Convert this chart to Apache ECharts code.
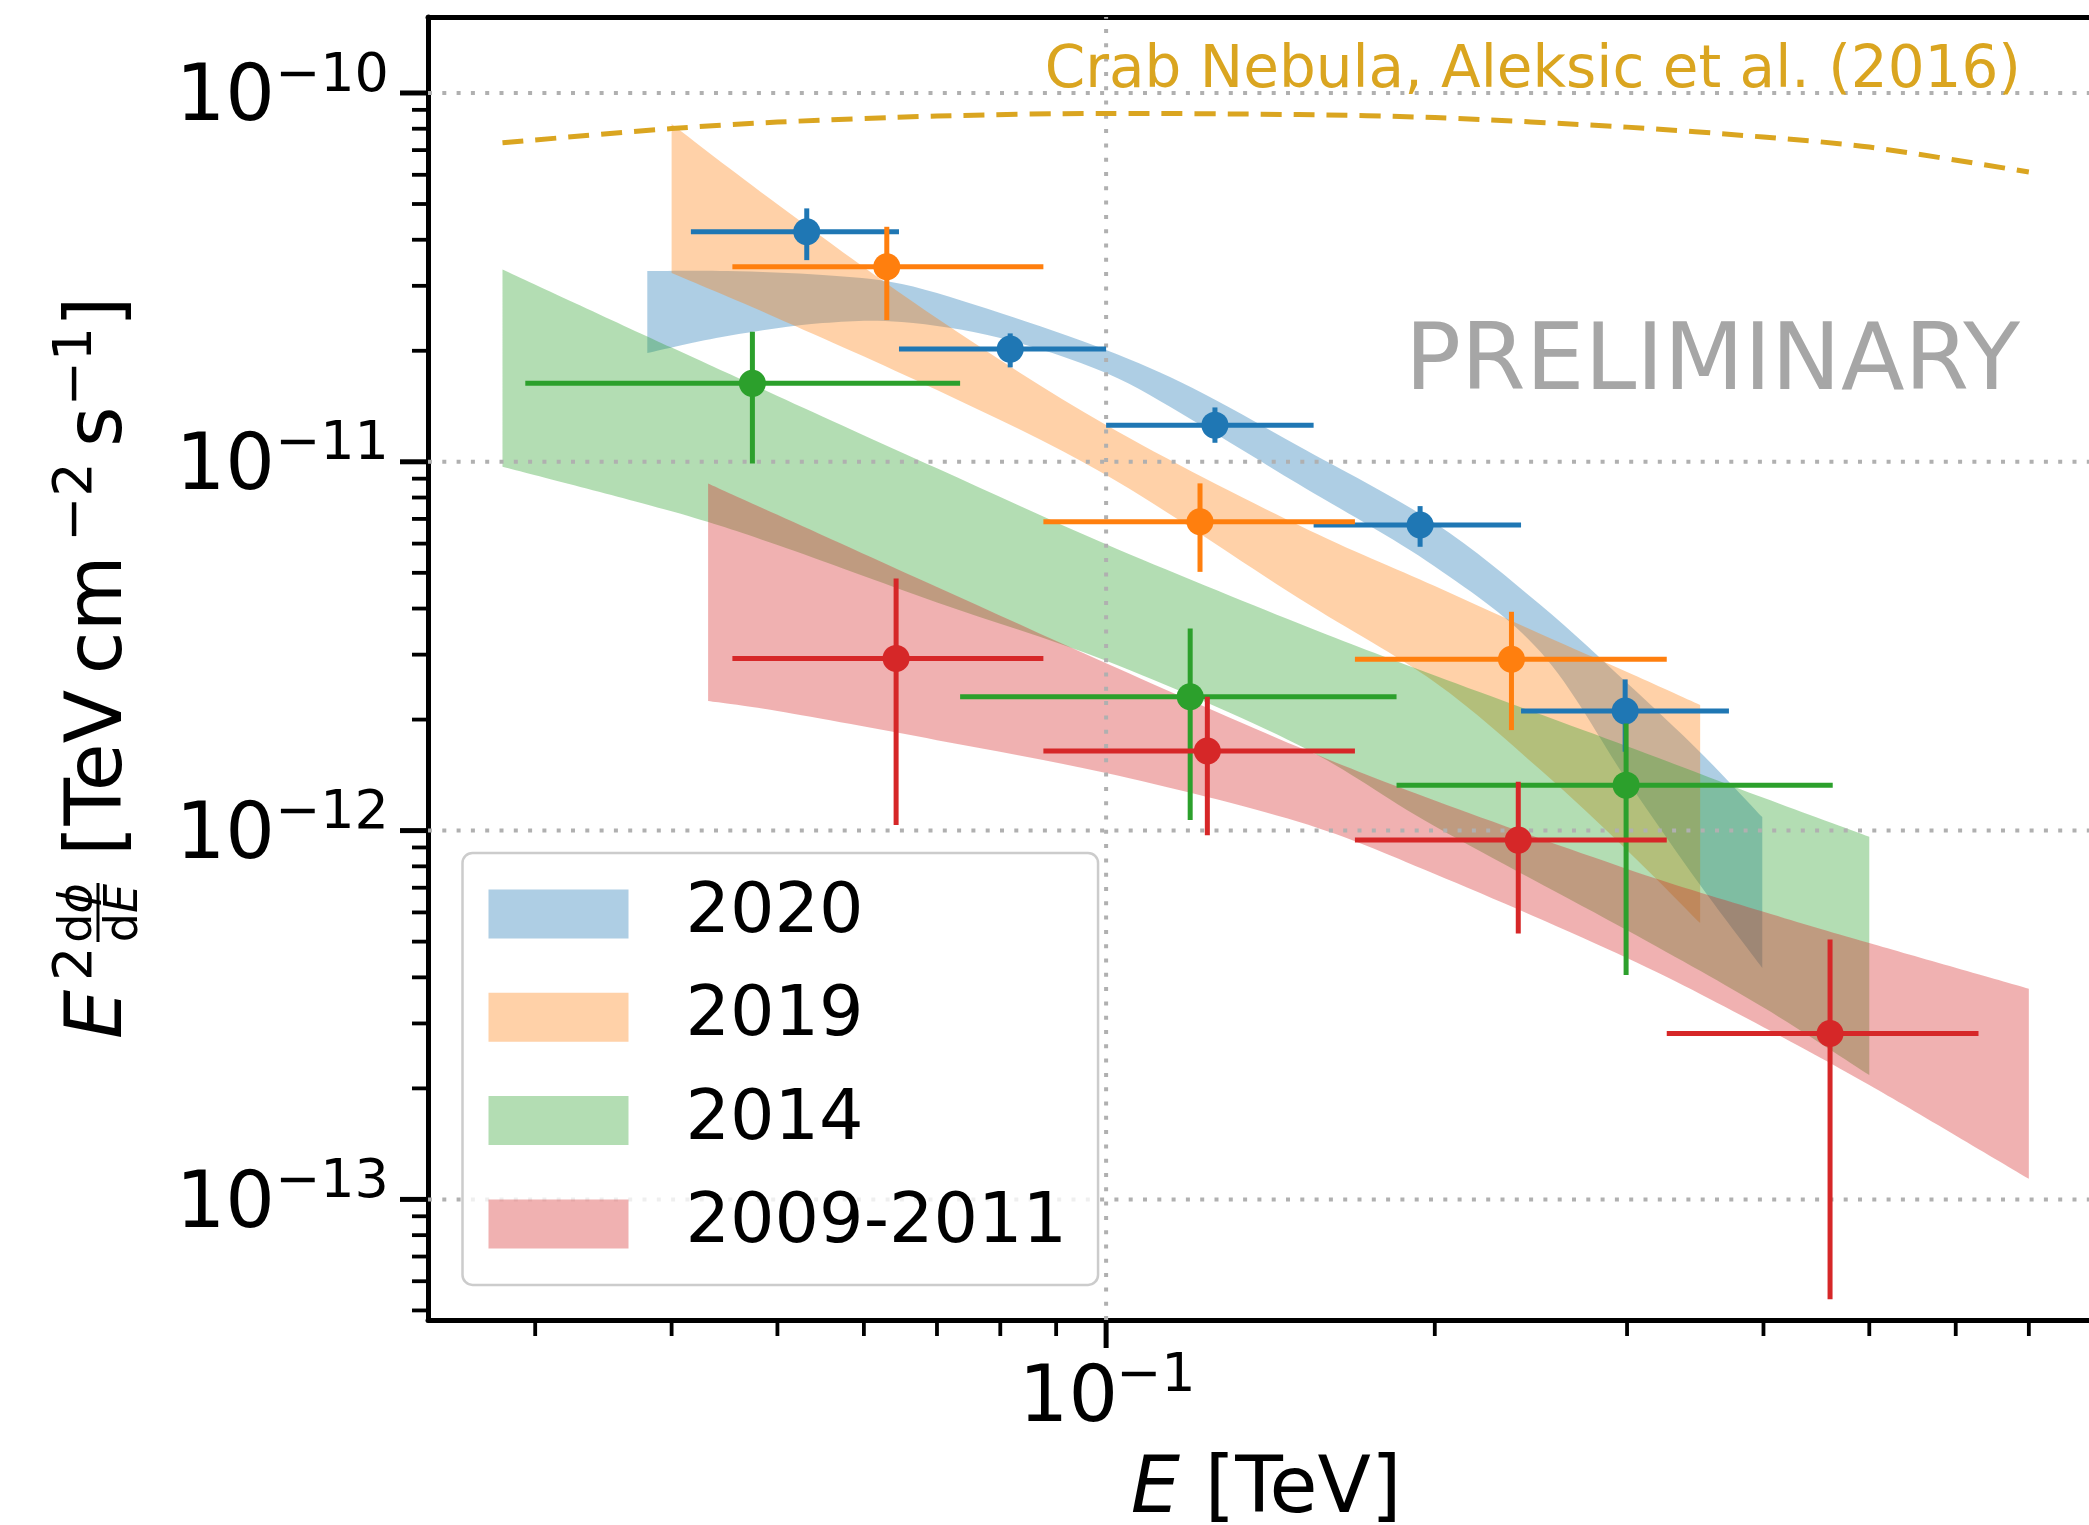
<!DOCTYPE html>
<html>
<head>
<meta charset="utf-8">
<script src="https://cdn.jsdelivr.net/npm/echarts@6/dist/echarts.min.js"></script>
<style>
html,body{margin:0;padding:0;background:#ffffff;}
#chart{width:2089px;height:1525px;}
</style>
</head>
<body>
<div id="chart"></div>
<script>
// ---------- axes ----------
const xRange = [0.02393, 0.7947];
const yRange = [4.71e-14, 1.607e-10];
const xMajorTicks = [0.1];
const xMinorTicks = [0.03, 0.04, 0.05, 0.06, 0.07, 0.08, 0.09, 0.2, 0.3, 0.4, 0.5, 0.6, 0.7];
const yMajorTicks = [1e-13, 1e-12, 1e-11, 1e-10];
const yMinorTicks = [5e-14, 6e-14, 7e-14, 8e-14, 9e-14,
  2e-13, 3e-13, 4e-13, 5e-13, 6e-13, 7e-13, 8e-13, 9e-13,
  2e-12, 3e-12, 4e-12, 5e-12, 6e-12, 7e-12, 8e-12, 9e-12,
  2e-11, 3e-11, 4e-11, 5e-11, 6e-11, 7e-11, 8e-11, 9e-11];
const xTickLabels = [['10', '\u22121']];
const yTickLabels = [['10', '\u221213'], ['10', '\u221212'], ['10', '\u221211'], ['10', '\u221210']];
const seriesNames = ['2020', '2019', '2014', '2009-2011'];

// ---------- flux points: [E, E2dN/dE, Elow, Ehigh, Flow, Fhigh] ----------
const points2020 = [
  [0.05319, 4.204e-11, 0.04166, 0.06461, 3.522e-11, 4.865e-11],
  [0.08169, 2.021e-11, 0.06461, 0.1, 1.803e-11, 2.229e-11],
  [0.1258, 1.257e-11, 0.1, 0.1549, 1.126e-11, 1.404e-11],
  [0.1939, 6.737e-12, 0.1549, 0.2399, 5.882e-12, 7.583e-12],
  [0.2988, 2.109e-12, 0.2399, 0.3719, 1.636e-12, 2.570e-12]
];
const points2019 = [
  [0.06297, 3.378e-11, 0.04547, 0.08761, 2.422e-11, 4.337e-11],
  [0.1219, 6.877e-12, 0.08761, 0.1690, 5.030e-12, 8.739e-12],
  [0.2351, 2.914e-12, 0.1690, 0.3262, 1.873e-12, 3.920e-12]
];
const points2014 = [
  [0.04743, 1.632e-11, 0.02938, 0.0735, 9.90e-12, 2.251e-11],
  [0.1194, 2.306e-12, 0.0735, 0.1845, 1.068e-12, 3.534e-12],
  [0.2994, 1.328e-12, 0.1845, 0.4629, 4.058e-13, 1.953e-12]
];
const points0911 = [
  [0.06422, 2.930e-12, 0.04547, 0.08761, 1.035e-12, 4.829e-12],
  [0.1238, 1.643e-12, 0.08761, 0.1690, 9.72e-13, 2.306e-12],
  [0.2385, 9.424e-13, 0.1690, 0.3262, 5.264e-13, 1.356e-12],
  [0.4603, 2.818e-13, 0.3262, 0.6295, 5.365e-14, 5.07e-13]
];

// ---------- fitted-spectrum bands ----------
const band2020E = [0.038, 0.045, 0.055, 0.065, 0.08, 0.1, 0.12, 0.15, 0.2, 0.25, 0.3, 0.35, 0.399];
const band2020Hi = [3.290e-11, 3.290e-11, 3.208e-11, 3.032e-11, 2.530e-11, 2.009e-11, 1.585e-11, 1.103e-11, 6.82e-12, 4.088e-12, 2.513e-12, 1.632e-12, 1.088e-12];
const band2020Lo = [1.971e-11, 2.192e-11, 2.377e-11, 2.392e-11, 2.165e-11, 1.740e-11, 1.297e-11, 8.701e-12, 5.200e-12, 3.048e-12, 1.370e-12, 7.115e-13, 4.24e-13];

const band2019E = [0.04, 0.05, 0.07, 0.1, 0.15, 0.2, 0.25, 0.3, 0.35];
const band2019Hi = [8.236e-11, 4.996e-11, 2.452e-11, 1.259e-11, 6.737e-12, 4.603e-12, 3.410e-12, 2.690e-12, 2.190e-12];
const band2019Lo = [3.249e-11, 2.452e-11, 1.565e-11, 9.204e-12, 4.270e-12, 2.525e-12, 1.459e-12, 8.852e-13, 5.613e-13];

const band2014E = [0.028, 0.04, 0.05, 0.07, 0.1, 0.15, 0.2, 0.3, 0.4, 0.5];
const band2014Hi = [3.324e-11, 2.040e-11, 1.509e-11, 9.600e-12, 5.977e-12, 3.650e-12, 2.634e-12, 1.694e-12, 1.227e-12, 9.620e-13];
const band2014Lo = [9.692e-12, 7.338e-12, 5.947e-12, 4.156e-12, 2.887e-12, 1.707e-12, 1.028e-12, 5.369e-13, 3.316e-13, 2.173e-13];

const band0911E = [0.0432, 0.05, 0.07, 0.1, 0.15, 0.2, 0.3, 0.4, 0.5, 0.7];
const band0911Hi = [8.739e-12, 7.180e-12, 4.573e-12, 2.842e-12, 1.684e-12, 1.206e-12, 7.874e-13, 6.028e-13, 4.955e-13, 3.726e-13];
const band0911Lo = [2.245e-12, 2.109e-12, 1.759e-12, 1.432e-12, 1.056e-12, 7.621e-13, 4.511e-13, 2.931e-13, 2.042e-13, 1.137e-13];

// ---------- Crab reference ----------
const crabE = [0.028, 0.04, 0.05, 0.07, 0.1, 0.15, 0.2, 0.3, 0.4, 0.5, 0.7];
const crabF = [7.328e-11, 8.007e-11, 8.338e-11, 8.657e-11, 8.804e-11, 8.738e-11, 8.575e-11, 8.08e-11, 7.594e-11, 7.134e-11, 6.104e-11];

// ---------- styling ----------
const FONT = '"DejaVu Sans", "Liberation Sans", sans-serif';
const lineColors = ['#1f77b4', '#ff7f0e', '#2ca02c', '#d62728'];
const bandColors = ['rgba(31,119,180,0.36)', 'rgba(255,127,14,0.36)', 'rgba(44,160,44,0.36)', 'rgba(214,39,40,0.36)'];

// smooth path (Catmull-Rom as cubic Bezier) through pixel points
function smoothSegs(pts) {
  let s = '';
  for (let i = 0; i < pts.length - 1; i++) {
    const p0 = pts[i - 1] || pts[i], p1 = pts[i], p2 = pts[i + 1], p3 = pts[i + 2] || pts[i + 1];
    const c1x = p1[0] + (p2[0] - p0[0]) / 6, c1y = p1[1] + (p2[1] - p0[1]) / 6;
    const c2x = p2[0] - (p3[0] - p1[0]) / 6, c2y = p2[1] - (p3[1] - p1[1]) / 6;
    s += ' C' + c1x + ' ' + c1y + ' ' + c2x + ' ' + c2y + ' ' + p2[0] + ' ' + p2[1];
  }
  return s;
}

function bandSeries(idx, E, lo, hi) {
  return {
    type: 'custom', name: seriesNames[idx], coordinateSystem: 'cartesian2d',
    z: 2, silent: true, clip: true,
    itemStyle: { color: bandColors[idx] },
    data: [[E[0], hi[0]]],
    renderItem: function (params, api) {
      const up = [], dn = [];
      for (let i = 0; i < E.length; i++) up.push(api.coord([E[i], hi[i]]));
      for (let i = E.length - 1; i >= 0; i--) dn.push(api.coord([E[i], lo[i]]));
      const d = 'M' + up[0][0] + ' ' + up[0][1] + smoothSegs(up) +
        ' L' + dn[0][0] + ' ' + dn[0][1] + smoothSegs(dn) + ' Z';
      return { type: 'path', shape: { pathData: d }, style: { fill: bandColors[idx] } };
    }
  };
}

function pointSeries(idx, rows) {
  const col = lineColors[idx];
  return {
    type: 'custom', name: seriesNames[idx] + ' points', coordinateSystem: 'cartesian2d',
    z: 5, silent: true, clip: false,
    encode: { x: [0, 2, 3], y: [1, 4, 5] },
    data: rows,
    renderItem: function (params, api) {
      const c = api.coord([api.value(0), api.value(1)]);
      const l = api.coord([api.value(2), api.value(1)]);
      const r = api.coord([api.value(3), api.value(1)]);
      const b = api.coord([api.value(0), api.value(4)]);
      const t = api.coord([api.value(0), api.value(5)]);
      return {
        type: 'group', children: [
          { type: 'line', shape: { x1: l[0], y1: l[1], x2: r[0], y2: r[1] }, style: { stroke: col, lineWidth: 5 } },
          { type: 'line', shape: { x1: t[0], y1: t[1], x2: b[0], y2: b[1] }, style: { stroke: col, lineWidth: 5 } },
          { type: 'circle', shape: { cx: c[0], cy: c[1], r: 13.5 }, style: { fill: col } }
        ]
      };
    }
  };
}

const gridSeries = {
  type: 'custom', name: 'grid', coordinateSystem: 'cartesian2d', z: 3, silent: true, clip: false,
  data: [[xRange[0], yRange[0]]],
  renderItem: function (params, api) {
    const ch = [];
    const st = { stroke: '#b0b0b0', lineWidth: 4, lineDash: [4, 10.3] };
    xMajorTicks.forEach(function (v) {
      const a = api.coord([v, yRange[0]]), b = api.coord([v, yRange[1]]);
      ch.push({ type: 'line', shape: { x1: a[0], y1: a[1], x2: b[0], y2: b[1] }, style: st });
    });
    yMajorTicks.forEach(function (v) {
      const a = api.coord([xRange[0], v]), b = api.coord([xRange[1], v]);
      ch.push({ type: 'line', shape: { x1: a[0], y1: a[1], x2: b[0], y2: b[1] }, style: st });
    });
    return { type: 'group', children: ch };
  }
};

const axisDecorSeries = {
  type: 'custom', name: 'axis decor', coordinateSystem: 'cartesian2d', z: 6, silent: true, clip: false,
  data: [[xRange[0], yRange[0]]],
  renderItem: function (params, api) {
    const ch = [];
    const tick = function (x1, y1, x2, y2, w) {
      ch.push({ type: 'line', shape: { x1: x1, y1: y1, x2: x2, y2: y2 }, style: { stroke: '#000', lineWidth: w } });
    };
    xMinorTicks.forEach(function (v) { const p = api.coord([v, yRange[0]]); tick(p[0], p[1], p[0], p[1] + 16, 3.8); });
    xMajorTicks.forEach(function (v, i) {
      const p = api.coord([v, yRange[0]]);
      tick(p[0], p[1], p[0], p[1] + 28, 5);
      ch.push({ type: 'text', x: p[0] + 12, y: p[1] + 80.7, style: { text: xTickLabels[i][0], font: '78px ' + FONT, fill: '#000', align: 'right', verticalAlign: 'middle' } });
      ch.push({ type: 'text', x: p[0] + 10, y: p[1] + 57.2, style: { text: xTickLabels[i][1], font: '54px ' + FONT, fill: '#000', align: 'left', verticalAlign: 'middle' } });
    });
    yMinorTicks.forEach(function (v) { const p = api.coord([xRange[0], v]); tick(p[0] - 16, p[1], p[0], p[1], 3.8); });
    yMajorTicks.forEach(function (v, i) {
      const p = api.coord([xRange[0], v]);
      tick(p[0] - 28, p[1], p[0], p[1], 5);
      ch.push({ type: 'text', x: p[0] - 153, y: p[1] + 7.1, style: { text: yTickLabels[i][0], font: '78px ' + FONT, fill: '#000', align: 'right', verticalAlign: 'middle' } });
      ch.push({ type: 'text', x: p[0] - 153, y: p[1] - 16.5, style: { text: yTickLabels[i][1], font: '54px ' + FONT, fill: '#000', align: 'left', verticalAlign: 'middle' } });
    });
    return { type: 'group', children: ch };
  }
};

const crabSeries = {
  type: 'line', name: 'Crab Nebula', z: 4, silent: true,
  data: crabE.map(function (e, i) { return [e, crabF[i]]; }),
  showSymbol: false, symbol: 'none', smooth: 0.3,
  lineStyle: { color: '#DAA520', width: 5, type: [21, 12] }
};

// y axis title pieces (local coords: u along text, v across; v values are text baselines)
function t(u, vBase, text, size, extra) {
  return { type: 'text', x: u, y: vBase - 0.2735 * size, style: { text: text, font: (extra || '') + size + 'px ' + FONT, fill: '#000', align: 'left', verticalAlign: 'middle' } };
}
const yTitle = {
  type: 'group', x: 0, y: 1039, rotation: Math.PI / 2,
  children: [
    t(0, 122, 'E', 78, 'italic '),
    t(58, 92, '2', 54),
    { type: 'text', x: 126, y: 92 - 0.2735 * 46, style: { text: '{a|d}{b|\u03d5}', align: 'center', verticalAlign: 'middle', fill: '#000', rich: { a: { font: '46px ' + FONT }, b: { font: 'italic 46px ' + FONT } } } },
    { type: 'line', shape: { x1: 97, y1: 98, x2: 156, y2: 98 }, style: { stroke: '#000', lineWidth: 3 } },
    { type: 'text', x: 126, y: 138 - 0.2735 * 46, style: { text: '{a|d}{b|E}', align: 'center', verticalAlign: 'middle', fill: '#000', rich: { a: { font: '46px ' + FONT }, b: { font: 'italic 46px ' + FONT } } } },
    t(183, 122, '[TeV\u2009cm', 78),
    t(497, 92, '\u22122', 54),
    t(592, 122, 's', 78),
    t(632.6, 92, '\u22121', 54),
    t(712, 122, ']', 78)
  ]
};

const option = {
  animation: false,
  backgroundColor: '#ffffff',
  grid: { left: 428, right: 0, top: 17, bottom: 205, containLabel: false },
  xAxis: [
    { type: 'log', logBase: 10, min: xRange[0], max: xRange[1], position: 'bottom',
      axisLine: { show: true, lineStyle: { color: '#000', width: 5 } },
      axisTick: { show: false }, axisLabel: { show: false }, splitLine: { show: false }, minorTick: { show: false } },
    { type: 'log', logBase: 10, min: xRange[0], max: xRange[1], position: 'top',
      axisLine: { show: true, lineStyle: { color: '#000', width: 5 } },
      axisTick: { show: false }, axisLabel: { show: false }, splitLine: { show: false } }
  ],
  yAxis: [
    { type: 'log', logBase: 10, min: yRange[0], max: yRange[1],
      axisLine: { show: true, lineStyle: { color: '#000', width: 5 } },
      axisTick: { show: false }, axisLabel: { show: false }, splitLine: { show: false } }
  ],
  legend: {
    orient: 'vertical', left: 462.5, top: 853,
    padding: [20, 31, 20, 26], itemGap: 21.3, itemWidth: 140, itemHeight: 49,
    backgroundColor: 'rgba(255,255,255,0.8)', borderColor: '#cccccc', borderWidth: 2.5, borderRadius: 10,
    selectedMode: false,
    textStyle: { fontFamily: FONT, fontSize: 70, color: '#000', padding: [12, 0, 0, 52], lineHeight: 70 },
    data: seriesNames.map(function (n, i) { return { name: n, icon: 'rect', itemStyle: { color: bandColors[i] } }; })
  },
  graphic: [
    { type: 'text', x: 2020, y: 364.5, z: 10, style: { text: 'PRELIMINARY', font: '93px ' + FONT, fill: '#a6a6a6', align: 'right', verticalAlign: 'middle' } },
    { type: 'text', x: 2021, y: 72.1, z: 10, style: { text: 'Crab Nebula, Aleksic et al. (2016)', font: '58px ' + FONT, fill: '#DAA520', align: 'right', verticalAlign: 'middle' } },
    { type: 'text', x: 1266, y: 1491.7, z: 10, style: { text: '{i|E} [TeV]', align: 'center', verticalAlign: 'middle', fill: '#000', font: '78px ' + FONT, rich: { i: { font: 'italic 78px ' + FONT } } } },
    yTitle
  ],
  series: [
    bandSeries(0, band2020E, band2020Lo, band2020Hi),
    bandSeries(1, band2019E, band2019Lo, band2019Hi),
    bandSeries(2, band2014E, band2014Lo, band2014Hi),
    bandSeries(3, band0911E, band0911Lo, band0911Hi),
    gridSeries,
    crabSeries,
    pointSeries(0, points2020),
    pointSeries(1, points2019),
    pointSeries(2, points2014),
    pointSeries(3, points0911),
    axisDecorSeries
  ]
};

const chart = echarts.init(document.getElementById('chart'), null, { renderer: 'canvas', width: 2089, height: 1525 });
chart.setOption(option);
</script>
</body>
</html>
